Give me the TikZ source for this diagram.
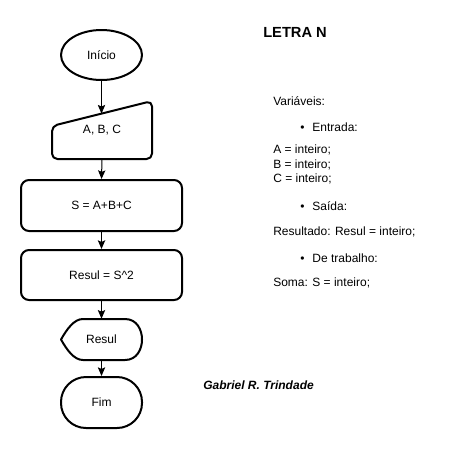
\documentclass[tikz,border=0pt]{standalone}
\usepackage{fontspec}
\setmainfont{Liberation Sans}
\usetikzlibrary{arrows.meta,shapes.geometric}
\begin{document}
\begin{tikzpicture}[x=0.75pt,y=-0.75pt,
  outline/.style={draw=black,line width=1.5pt,line join=round},
  flow/.style={-{Stealth[length=6.5pt,width=5.5pt,inset=1.2pt]},line width=0.75pt},
  txt/.style={font=\fontsize{9}{11}\selectfont,inner sep=0pt},
  note/.style={txt,anchor=west},
]
\useasboundingbox (0,0) rectangle (452,450);
\fill[white] (0,0) rectangle (452,450);

% --- flowchart ---
\node[outline,txt,ellipse,minimum width=60.75pt,minimum height=37.5pt] (inicio) at (101.5,55) {Início};

% manual input (slanted top)
\draw[outline,rounded corners=4pt] (52,126) -- (152,101) -- (152,159) -- (52,159) -- cycle;
\node[txt,minimum width=75pt,minimum height=43.5pt] (entrada) at (102,130) {A, B, C};
\coordinate (slant) at (101.5,113.6);

\node[outline,txt,rounded corners=6pt,minimum width=120.75pt,minimum height=38.25pt] (soma) at (101.5,205.5) {S = A+B+C};
\node[outline,txt,rounded corners=6pt,minimum width=120.75pt,minimum height=37.5pt] (quad) at (101.5,275) {Resul = S\^{}2};

% display output
\draw[outline] (61,339.5) .. controls (67,329) and (74,319) .. (83,319) -- (125,319)
  .. controls (137,319) and (142,330) .. (142,339.5)
  .. controls (142,349) and (137,360) .. (125,360) -- (83,360)
  .. controls (74,360) and (67,350) .. (61,339.5) -- cycle;
\node[txt,minimum width=60.75pt,minimum height=30.75pt] (saida) at (101.5,339.5) {Resul};

\node[outline,txt,rounded corners=18.75pt,minimum width=60.75pt,minimum height=38.25pt] (fim) at (101.5,402.5) {Fim};

\draw[flow] (inicio.south) -- (slant);
\draw[flow] (entrada.south) -- (soma.north);
\draw[flow] (soma.south) -- (quad.north);
\draw[flow] (quad.south) -- (saida.north);
\draw[flow] (saida.south) -- (fim.north);

% --- variable declarations ---
\node[anchor=west,inner sep=0pt,font=\fontsize{11}{13}\selectfont\bfseries] (titulo) at (263,32) {LETRA N};
\node[note] (vars) at (273,101) {Variáveis:};
\node[note] (ent) at (300,127) {\textbullet\hspace{6pt}Entrada:};
\node[note] (va) at (273,150) {A = inteiro;};
\node[note] (vb) at (273,164.5) {B = inteiro;};
\node[note] (vc) at (273,179) {C = inteiro;};
\node[note] (sai) at (300,206) {\textbullet\hspace{6pt}Saída:};
\node[note] (res) at (273,232) {Resultado: Resul = inteiro;};
\node[note] (trab) at (300,258) {\textbullet\hspace{6pt}De trabalho:};
\node[note] (sm) at (273,283) {Soma: S = inteiro;};

\node[note,font=\fontsize{9}{11}\selectfont\bfseries\itshape] (autor) at (203,385) {Gabriel R. Trindade};
\end{tikzpicture}
\end{document}
